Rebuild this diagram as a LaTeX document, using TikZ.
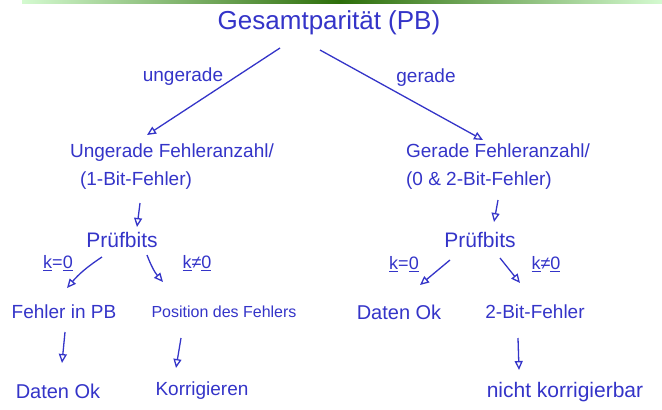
\documentclass[tikz,border=0pt]{standalone}
\usepackage{fontspec}
\setmainfont{Liberation Sans}
\usetikzlibrary{arrows.meta,calc}
\definecolor{ink}{RGB}{52,52,200}
\definecolor{barlight}{RGB}{212,250,208}
\definecolor{bardark}{RGB}{45,110,10}
\begin{document}
\begin{tikzpicture}[x=1pt,y=-1pt,
  hand/.style={text=ink, inner sep=0pt, font=\fontsize{19}{28}\selectfont},
  big/.style={font=\fontsize{26}{30}\selectfont},
  mid/.style={font=\fontsize{21}{26}\selectfont},
  small/.style={font=\fontsize{18}{22}\selectfont},
  arr/.style={draw=ink, line width=1.3pt, -{Triangle[open,length=9pt,width=8pt]}},
]
\useasboundingbox (0,0) rectangle (662,410);
\shade[left color=barlight,right color=bardark] (22,0) rectangle (340,3.5);
\shade[left color=bardark,right color=barlight] (340,0) rectangle (662,3.5);

\node[hand,big] (top) at (329,23) {Gesamtparität (PB)};
\node[hand] (lu) at (183,77) {ungerade};
\node[hand] (lg) at (426,78) {gerade};

\node[hand,align=left] (L1) at (172,167) {Ungerade Fehleranzahl/\\\hspace*{10pt}(1-Bit-Fehler)};
\node[hand,align=left] (R1) at (498,167) {Gerade Fehleranzahl/\\(0 \& 2-Bit-Fehler)};

\node[hand,mid] (P1) at (122,240) {Prüfbits};
\node[hand,mid] (P2) at (480,240) {Prüfbits};

\node[hand,small] (k1) at (58,263) {\underline{k}=\underline{0}};
\node[hand,small] (k2) at (197,263) {\underline{k}≠\underline{0}};
\node[hand,small] (k3) at (404,264) {\underline{k}=\underline{0}};
\node[hand,small] (k4) at (546,264) {\underline{k}≠\underline{0}};

\node[hand] (FiPB) at (64,312) {Fehler in PB};
\node[hand,font=\fontsize{16}{20}\selectfont] (Pos) at (224,312) {Position des Fehlers};
\node[hand,font=\fontsize{20}{24}\selectfont] (DOK1) at (399,312) {Daten Ok};
\node[hand] (TwoBit) at (535,312) {2-Bit-Fehler};

\node[hand,font=\fontsize{20}{24}\selectfont] (DOK) at (58,391) {Daten Ok};
\node[hand] (Korr) at (202,391) {Korrigieren};
\node[hand,mid] (NK) at (565,392) {nicht korrigierbar};

\draw[arr] ($(top)+(-49,25)$) -- ($(L1)+(-25,-32)$);
\draw[arr] ($(top)+(-9,27)$) -- ($(R1)+(-15,-27)$);
\draw[arr] ($(L1)+(-32,36)$) -- ($(P1)+(15,-13)$);
\draw[arr] ($(R1)+(0,33)$) -- ($(P2)+(14,-18)$);
\draw[arr] ($(P1)+(-20,17)$) to[bend right=8] ($(FiPB)+(3,-24)$);
\draw[arr] ($(P1)+(25,15)$) to[bend right=10] ($(Pos)+(-61,-30)$);
\draw[arr] ($(P2)+(-30,20)$) -- ($(DOK1)+(21,-27)$);
\draw[arr] ($(P2)+(20,18)$) -- ($(TwoBit)+(-15,-29)$);
\draw[arr] ($(FiPB)+(1,20)$) -- ($(DOK)+(4,-28)$);
\draw[arr] ($(Pos)+(-43,26)$) -- ($(Korr)+(-26,-23)$);
\draw[arr] ($(TwoBit)+(-17,26)$) -- ($(NK)+(-46,-22)$);
\end{tikzpicture}
\end{document}
